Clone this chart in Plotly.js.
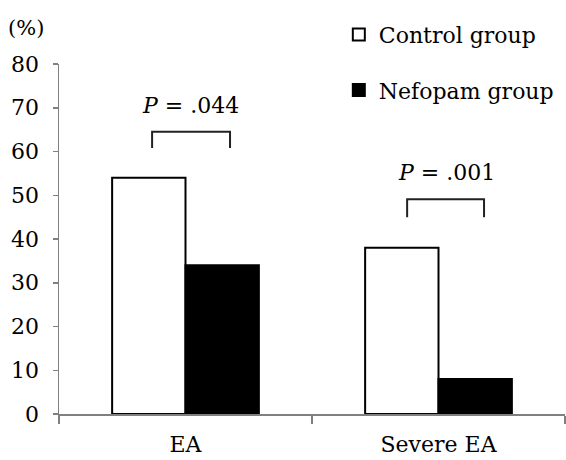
<!DOCTYPE html>
<html>
<head>
<meta charset="utf-8">
<script src="https://cdn.plot.ly/plotly-3.0.1.min.js"></script>
<style>html,body{margin:0;padding:0;background:#fff;}#chart{width:566px;height:460px;}</style>
</head>
<body>
<div id="chart"></div>
<script>
const categories = ["EA", "Severe EA"];
const controlValues = [54, 38];
const nefopamValues = [34, 8];
const seriesNames = ["Control group", "Nefopam group"];
const pLabels = ["<i>P</i> = .044", "<i>P</i> = .001"];
const yTicks = [0, 10, 20, 30, 40, 50, 60, 70, 80];

const FONT = "DejaVu Serif";

const traces = [
  {type: "bar", name: seriesNames[0], x: categories, y: controlValues,
   marker: {color: "#ffffff", line: {color: "#000000", width: 2}}, legendgroup: "a"},
  {type: "bar", name: seriesNames[1], x: categories, y: nefopamValues,
   marker: {color: "#000000", line: {color: "#000000", width: 2}}, legendgroup: "b"}
];

const brackets = [
  {x0: -0.132, x1: 0.176, yTop: 64.5, yBot: 60.8},
  {x0: 0.876, x1: 1.180, yTop: 49.1, yBot: 45.0}
];
const shapes = brackets.map(b => ({
  type: "path", xref: "x", yref: "y",
  path: `M ${b.x0} ${b.yBot} L ${b.x0} ${b.yTop} L ${b.x1} ${b.yTop} L ${b.x1} ${b.yBot}`,
  line: {color: "#222222", width: 2}
}));

const annotations = [
  {xref: "x", yref: "y", x: 0.018, y: 70.6, text: pLabels[0], showarrow: false,
   font: {family: FONT, size: 22, color: "#000"}},
  {xref: "x", yref: "y", x: 1.03, y: 55.1, text: pLabels[1], showarrow: false,
   font: {family: FONT, size: 22, color: "#000"}},
  {xref: "paper", yref: "paper", x: -0.065, y: 1.103, xanchor: "center", yanchor: "middle",
   text: "(%)", showarrow: false, font: {family: FONT, size: 21, color: "#000"}}
];

const layout = {
  width: 566, height: 460,
  margin: {l: 59, r: 1, t: 64, b: 46},
  paper_bgcolor: "#ffffff", plot_bgcolor: "#ffffff",
  barmode: "group", bargap: 0.42, bargroupgap: 0,
  font: {family: FONT, size: 22, color: "#000"},
  showlegend: true,
  legend: {x: 0.553, y: 1.144, xanchor: "left", yanchor: "top", bgcolor: "rgba(0,0,0,0)",
           font: {family: FONT, size: 22, color: "#000"}, tracegroupgap: 24, itemwidth: 30},
  xaxis: {type: "category", range: [-0.5, 1.5], showline: true, linecolor: "#808080", linewidth: 1.5,
          ticks: "outside", tickson: "boundaries", ticklen: 8, tickcolor: "#808080", tickwidth: 1.5,
          ticklabelstandoff: 10,
          showgrid: false, zeroline: false, fixedrange: true,
          tickfont: {family: FONT, size: 22, color: "#000"}},
  yaxis: {range: [0, 80], tickvals: yTicks, showline: true, linecolor: "#808080", linewidth: 1.5,
          ticks: "outside", ticklen: 5, tickcolor: "#808080", tickwidth: 1.5,
          ticklabelstandoff: 9,
          showgrid: false, zeroline: false, fixedrange: true,
          tickfont: {family: FONT, size: 22, color: "#000"}},
  shapes: shapes,
  annotations: annotations
};

Plotly.newPlot("chart", traces, layout, {staticPlot: true, displayModeBar: false});
</script>
</body>
</html>
